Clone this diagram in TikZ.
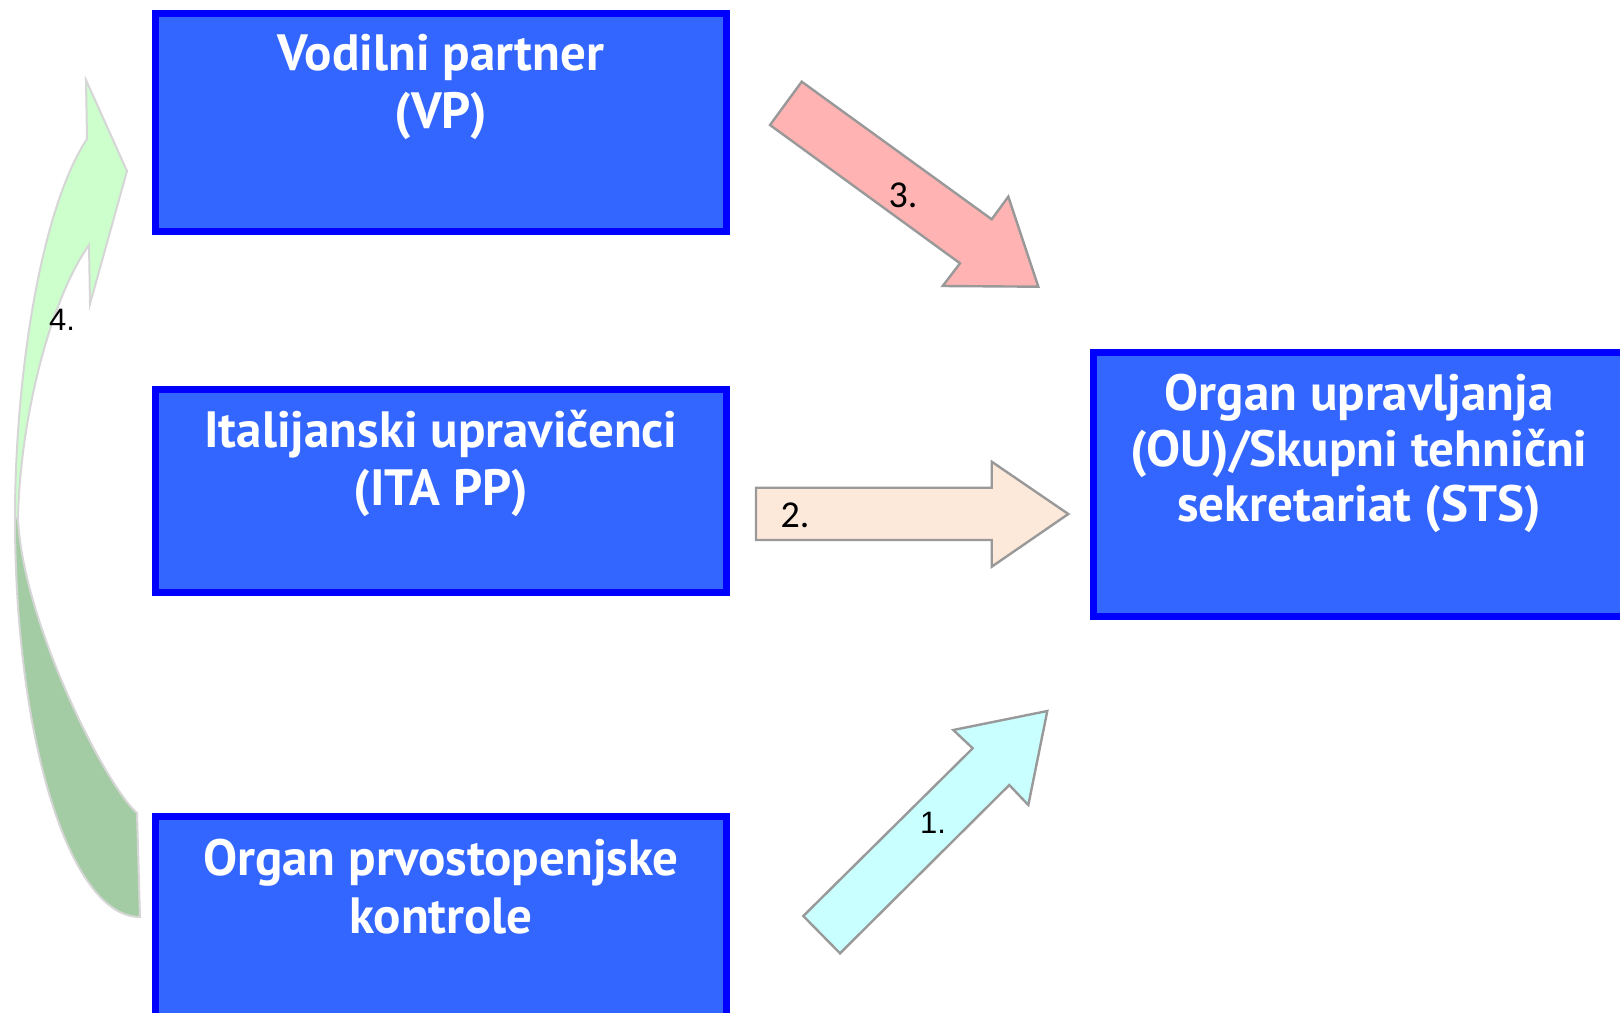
\documentclass[tikz,border=0pt]{standalone}
\usepackage{fontspec}
\setmainfont{PT Sans}
\newfontfamily\numfont{Liberation Sans}
\newfontfamily\calfont{Carlito}
\definecolor{boxfill}{HTML}{3366FF}
\definecolor{boxline}{HTML}{0000FF}
\definecolor{arrowline}{HTML}{999999}
\definecolor{pinkfill}{HTML}{FFB3B3}
\definecolor{peachfill}{HTML}{FCE9DA}
\definecolor{cyanfill}{HTML}{C9FFFF}
\definecolor{greenlight}{HTML}{CCFFCC}
\definecolor{greendark}{HTML}{A4CCA4}
\definecolor{greenline}{HTML}{D6D6D6}
\begin{document}
\begin{tikzpicture}[x=0.5pt,y=-0.5pt,
  box/.style={draw=boxline, fill=boxfill, line width=3.5pt, inner sep=0pt, outer sep=0pt, rectangle},
  boxtext/.style={text=white, font=\bfseries\fontsize{25.5}{29}\selectfont, align=center, anchor=north, inner sep=0pt},
  blockarrow/.style={draw=arrowline, line width=1.2pt, line join=miter},
  curvearrow/.style={draw=greenline, line width=1pt, line join=miter},
  numlbl/.style={font=\numfont\fontsize{15.5}{18}\selectfont, inner sep=0pt},
  callbl/.style={font=\calfont\fontsize{19}{21}\selectfont, inner sep=0pt}]
\useasboundingbox (0,0) rectangle (1620,1012);
\begin{scope}
\clip (0,0) rectangle (1620,1012);
% boxes
\node[box, minimum width=285.5pt, minimum height=108.75pt] (vp) at (441,122.25) {};
\node[box, minimum width=285.5pt, minimum height=101.4pt] (ita) at (441,491.3) {};
\node[box, minimum width=285.5pt, minimum height=111.75pt] (opk) at (441,928.25) {};
\node[box, minimum width=265.5pt, minimum height=132pt] (ou) at (1359,484.5) {};
% box texts
\node[boxtext] (vpt) at (441,34) {Vodilni partner\\(VP)};
\node[boxtext] (itat) at (441,410) {Italijanski upravičenci\\(ITA PP)};
\node[boxtext] (opkt) at (441,839) {Organ prvostopenjske\\kontrole};
\node[boxtext, font=\bfseries\fontsize{25.5}{27.6}\selectfont] (out) at (1359,374) {Organ upravljanja\\(OU)/Skupni tehnični\\sekretariat (STS)};
% arrow 3
\draw[blockarrow, fill=pinkfill] (801.7,81.7) -- (991.7,219.3) -- (1008.3,196.7) -- (1038.3,286.7) -- (942.7,286) -- (960,263.3) -- (770,125) -- cycle;
% arrow 2
\draw[blockarrow, fill=peachfill] (756,487.7) -- (991.7,487.7) -- (991.7,461.7) -- (1068.3,514) -- (991.7,566.7) -- (991.7,540) -- (756,540) -- cycle;
% arrow 1
\draw[blockarrow, fill=cyanfill] (803.3,916) -- (972.7,748.3) -- (953.3,730) -- (1047.3,711) -- (1028.3,805) -- (1009.3,785) -- (840,953.3) -- cycle;
% arrow 4 (curved)
\draw[curvearrow, fill=greendark] (15,518) .. controls (15,740) and (70,917) .. (140,917) -- (137,813) .. controls (105,785) and (22,620) .. (18,518) -- cycle;
\draw[curvearrow, fill=greenlight] (89,245) -- (90,304) -- (127,171) -- (86,80) -- (87,139) .. controls (40,210) and (15,380) .. (15,518) -- (18,518) .. controls (20,420) and (50,300) .. (89,245) -- cycle;
% labels
\node[callbl] (l3) at (903,195) {3.};
\node[callbl] (l2) at (795,515) {2.};
\node[numlbl] (l1) at (933,823) {1.};
\node[numlbl] (l4) at (62,320) {4.};
\end{scope}
\end{tikzpicture}
\end{document}
